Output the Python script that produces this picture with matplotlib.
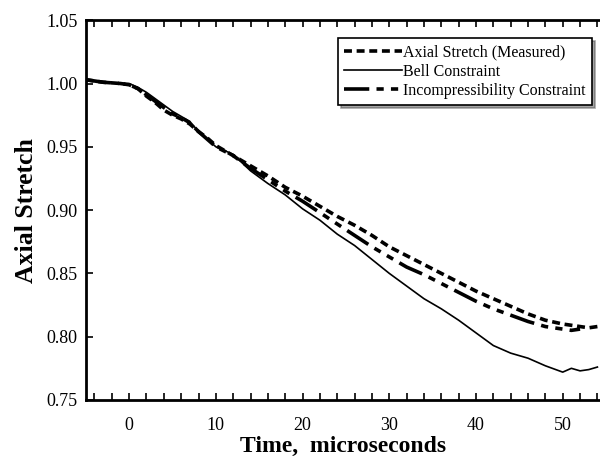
import numpy as np
import matplotlib.pyplot as plt
from matplotlib.ticker import MultipleLocator

# time in microseconds
time = [-5, -3, -1, 0, 1, 2, 3, 4, 5, 6, 7, 8, 9, 10, 12, 14, 16, 18, 20,
        22, 24, 26, 28, 30, 32, 34, 36, 38, 40, 42, 44, 46, 48, 50, 51, 52, 53, 54]

measured = [1.003, 1.001, 1.000, 0.999, 0.996, 0.990, 0.985, 0.979, 0.975, 0.972,
            0.968, 0.962, 0.957, 0.951, 0.943, 0.935, 0.927, 0.918, 0.911,
            0.903, 0.895, 0.888, 0.880, 0.871, 0.864, 0.857, 0.850, 0.843, 0.836,
            0.830, 0.824, 0.818, 0.813, 0.810, 0.809, 0.808, 0.807, 0.808]

bell = [1.003, 1.001, 1.000, 1.000, 0.997, 0.993, 0.988, 0.983, 0.978, 0.974,
        0.970, 0.962, 0.956, 0.950, 0.944, 0.931, 0.921, 0.912, 0.901,
        0.892, 0.881, 0.872, 0.861, 0.850, 0.840, 0.830, 0.822, 0.813, 0.803,
        0.793, 0.787, 0.783, 0.777, 0.772, 0.775, 0.773, 0.774, 0.776]

incomp = [1.003, 1.001, 1.000, 0.999, 0.996, 0.991, 0.986, 0.981, 0.976, 0.973,
          0.969, 0.962, 0.956, 0.950, 0.943, 0.933, 0.924, 0.915, 0.907,
          0.898, 0.889, 0.880, 0.871, 0.863, 0.855, 0.849, 0.842, 0.835, 0.828,
          0.822, 0.817, 0.812, 0.808, 0.806, 0.805, 0.806, np.nan, np.nan]

plt.rcParams['font.family'] = ['Liberation Serif', 'DejaVu Serif']

fig = plt.figure(figsize=(6, 4.7), dpi=100)
ax = fig.add_axes([0.143, 0.149, 0.857, 0.808])

ax.plot(time, measured, color='black', lw=2.6, linestyle=(0, (2.2, 1.3)),
        label='Axial Stretch (Measured)')
ax.plot(time, bell, color='black', lw=1.2, label='Bell Constraint')
ax.plot(time, incomp, color='black', lw=2.6, linestyle=(0, (7, 2, 2, 2, 2, 2)),
        label='Incompressibility Constraint')

ax.set_xlim(-5, 54.3)
ax.set_ylim(0.75, 1.05)
ax.xaxis.set_major_locator(MultipleLocator(10))
ax.xaxis.set_minor_locator(MultipleLocator(2))
ax.yaxis.set_major_locator(MultipleLocator(0.05))
ax.yaxis.set_major_formatter(plt.FormatStrFormatter('%.2f'))

ax.tick_params(axis='x', which='both', direction='in', top=True, length=5,
               width=1.2, labelsize=13, pad=12)
ax.tick_params(axis='y', which='both', direction='in', length=5, width=1.2,
               labelsize=13, pad=6)

ax.spines['right'].set_visible(False)
for s in ['left', 'bottom', 'top']:
    ax.spines[s].set_linewidth(2)

ax.set_xlabel('Time,  microseconds', fontsize=17, fontweight='bold', labelpad=2)
ax.set_ylabel('Axial Stretch', fontsize=18.5, fontweight='bold', labelpad=6)

leg = ax.legend(loc='upper right', bbox_to_anchor=(0.985, 0.953), fontsize=11.5,
                frameon=True, fancybox=False, shadow=True, edgecolor='black',
                handlelength=3.6, handletextpad=0.1, labelspacing=0.2,
                borderpad=0.4, borderaxespad=0)
leg.get_frame().set_linewidth(1.2)

fig.savefig('out.png', dpi=100)
